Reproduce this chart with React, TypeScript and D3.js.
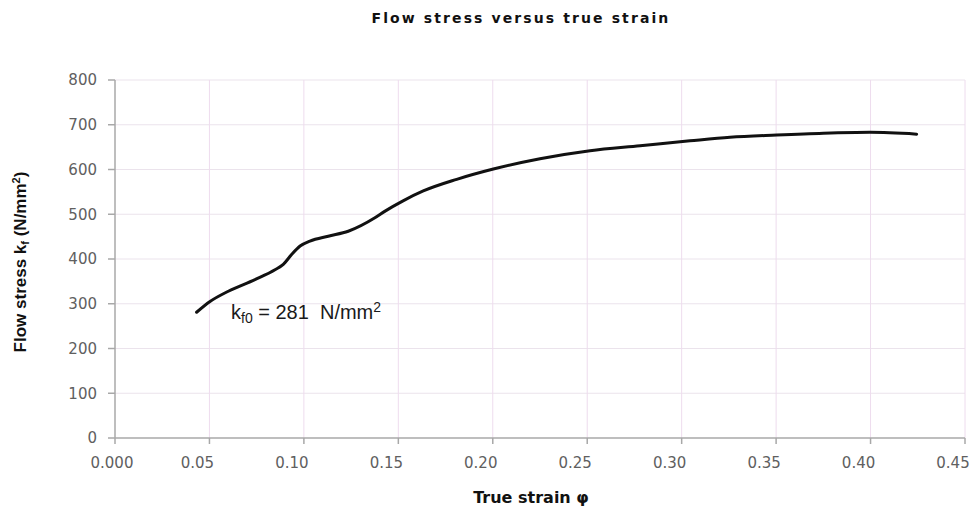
import React from 'react';
import * as d3 from 'd3';

// curve
const strain = [0.0432, 0.0503, 0.06, 0.0741, 0.0847, 0.0891, 0.0935, 0.098, 0.1032, 0.1129, 0.1235, 0.1376, 0.143, 0.1525, 0.1632, 0.1809, 0.2003, 0.225, 0.2515, 0.278, 0.3044, 0.3256, 0.3503, 0.375, 0.3997, 0.4244];
const stress = [281, 305, 328, 354, 376, 388, 410, 429, 440, 451, 462, 492, 507, 530, 552, 578, 601, 624, 642, 653, 664, 672, 677, 681, 683, 679];

const xTicks = [0, 0.05, 0.1, 0.15, 0.2, 0.25, 0.3, 0.35, 0.4, 0.45];
const xTickLabels = ['0.000', '0.05', '0.10', '0.15', '0.20', '0.25', '0.30', '0.35', '0.40', '0.45'];
const yTicks = [0, 100, 200, 300, 400, 500, 600, 700, 800];

const W = 973;
const H = 512;
const margin = { left: 115, right: 8, top: 80, bottom: 74 };

export default function App() {
  const x = d3.scaleLinear().domain([0, 0.45]).range([margin.left, W - margin.right]);
  const y = d3.scaleLinear().domain([0, 800]).range([H - margin.bottom, margin.top]);

  const points = strain.map((s, i) => [s, stress[i]] as [number, number]);
  const line = d3
    .line<[number, number]>()
    .x((d) => x(d[0]))
    .y((d) => y(d[1]))
    .curve(d3.curveMonotoneX);

  const tickFont = '"DejaVu Sans", Verdana, sans-serif';
  const arial = '"Liberation Sans", Arial, sans-serif';
  const x0 = x(0);
  const y0 = y(0);

  return (
    <div style={{ position: 'absolute', left: 0, top: 0 }}>
      <svg width={W} height={H} style={{ display: 'block', background: '#fff' }}>
        <text x={521} y={23} textAnchor="middle" fontFamily={tickFont} fontWeight="bold" fontSize={14} letterSpacing={2.1} fill="#111">
          Flow stress versus true strain
        </text>

        {/* grid */}
        {yTicks.slice(1).map((t) => (
          <line key={'gy' + t} x1={x0} x2={x(0.45)} y1={y(t)} y2={y(t)} stroke="#ebe3ec" strokeWidth={1} />
        ))}
        {xTicks.slice(1).map((t) => (
          <line key={'gx' + t} x1={x(t)} x2={x(t)} y1={y(800)} y2={y0} stroke="#eedcee" strokeWidth={1} />
        ))}

        {/* axes */}
        <line x1={x0} x2={x0} y1={y(800)} y2={y0} stroke="#a8a8a8" strokeWidth={1.5} />
        <line x1={x0} x2={x(0.45)} y1={y0} y2={y0} stroke="#a8a8a8" strokeWidth={1.5} />
        {yTicks.map((t) => (
          <g key={'ty' + t}>
            <line x1={x0 - 7} x2={x0} y1={y(t)} y2={y(t)} stroke="#a8a8a8" strokeWidth={1.5} />
            <text x={97} y={y(t)} dy="0.35em" textAnchor="end" fontFamily={tickFont} fontSize={15} fill="#606060">
              {t}
            </text>
          </g>
        ))}
        {xTicks.map((t, i) => (
          <g key={'tx' + t}>
            <line x1={x(t)} x2={x(t)} y1={y0} y2={y0 + 6} stroke="#a8a8a8" strokeWidth={1.5} />
            <text x={x(t) + (i === 0 ? -3 : -12)} y={468} textAnchor="middle" fontFamily={tickFont} fontSize={15} fill="#606060">
              {xTickLabels[i]}
            </text>
          </g>
        ))}

        {/* curve */}
        <path d={line(points) || ''} fill="none" stroke="#111" strokeWidth={3} strokeLinejoin="round" strokeLinecap="round" />

        <text x={231} y={319} fontFamily={arial} fontSize={20} fill="#1a1a1a" style={{ whiteSpace: 'pre' }}>
          k<tspan fontSize={14} dy={4}>f0</tspan>
          <tspan dy={-4}>{' = 281  N/mm'}</tspan>
          <tspan fontSize={14} dy={-7}>2</tspan>
        </text>

        {/* axis titles */}
        <text transform="translate(26,262) rotate(-90)" textAnchor="middle" fontFamily={arial} fontWeight="bold" fontSize={17} fill="#111">
          Flow stress k<tspan fontSize={11} dy={3}>f</tspan>
          <tspan dy={-3}> (N/mm</tspan>
          <tspan fontSize={11} dy={-6}>2</tspan>
          <tspan dy={6}>)</tspan>
        </text>
        <text x={531} y={503} textAnchor="middle" fontFamily={tickFont} fontWeight="bold" fontSize={16} fill="#111">
          True strain φ
        </text>
      </svg>
    </div>
  );
}
